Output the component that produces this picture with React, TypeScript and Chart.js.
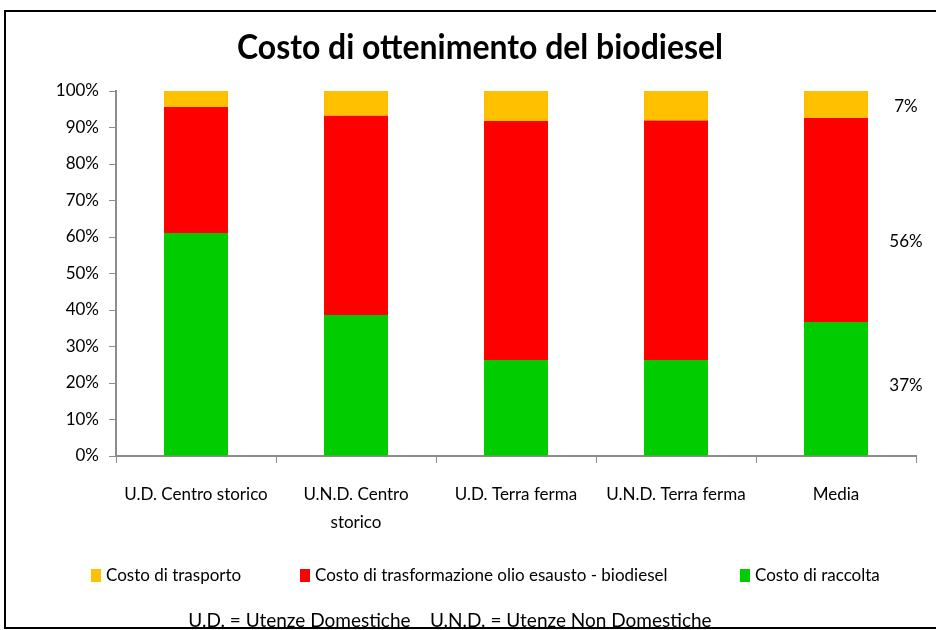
import React, { useEffect, useRef } from 'react';
import { Chart, registerables } from 'chart.js';

Chart.register(...registerables);

const TITLE = 'Costo di ottenimento del biodiesel';
const categories: string[][] = [
  ['U.D. Centro storico'],
  ['U.N.D. Centro', 'storico'],
  ['U.D. Terra ferma'],
  ['U.N.D. Terra ferma'],
  ['Media'],
];
const seriesNames = ['Costo di raccolta', 'Costo di trasformazione olio esausto - biodiesel', 'Costo di trasporto'];
const raccolta = [61.1, 38.6, 26.3, 26.3, 36.7];
const trasformazione = [34.5, 54.6, 65.5, 65.6, 55.9];
const trasporto = [4.4, 6.8, 8.2, 8.1, 7.4];
const mediaLabels = ['37%', '56%', '7%'];
const colors = ['#00CC00', '#FF0000', '#FFC000'];
const FOOTNOTE = 'U.D. = Utenze Domestiche    U.N.D. = Utenze Non Domestiche';

const FONT = 'Lato, "Open Sans", sans-serif';

const decorPlugin = {
  id: 'decor',
  afterDraw(chart: any) {
    const ctx = chart.ctx as CanvasRenderingContext2D;
    ctx.save();
    // outer border
    ctx.strokeStyle = '#000';
    ctx.lineWidth = 2;
    ctx.strokeRect(5, 11, 960, 617);

    // title
    ctx.fillStyle = '#000';
    ctx.font = `bold 35px ${FONT}`;
    ctx.textAlign = 'center';
    ctx.textBaseline = 'middle';
    ctx.fillText(TITLE, 480, 48, 486);

    // labels for last bar (Media)
    const meta0 = chart.getDatasetMeta(0);
    const lastBar = meta0.data[meta0.data.length - 1];
    const lx = lastBar.x + 70;
    const yScale = chart.scales.y;
    ctx.font = `17px ${FONT}`;
    let base = 0;
    const dsets = [raccolta, trasformazione, trasporto];
    const nudge = [-4, 21, 2];
    dsets.forEach((arr, i) => {
      const v = arr[arr.length - 1];
      const mid = base + v / 2;
      base += v;
      ctx.fillText(mediaLabels[i], lx, yScale.getPixelForValue(mid) + nudge[i]);
    });

    // legend (reverse order)
    ctx.font = `17px ${FONT}`;
    ctx.textAlign = 'left';
    const legendY = 576;
    const legendX = [91, 300, 740];
    const legendW = [137, 365, 127];
    [2, 1, 0].forEach((di, k) => {
      ctx.fillStyle = colors[di];
      ctx.fillRect(legendX[k], legendY - 7, 10, 13);
      ctx.fillStyle = '#000';
      ctx.fillText(seriesNames[di], legendX[k] + 15, legendY, legendW[k]);
    });

    // footnote
    ctx.font = `19px ${FONT}`;
    ctx.textAlign = 'center';
    ctx.fillText(FOOTNOTE, 450, 621, 530);
    ctx.restore();
  },
};

export default function App() {
  const ref = useRef<HTMLCanvasElement | null>(null);
  useEffect(() => {
    if (!ref.current) return;
    const chart = new Chart(ref.current, {
      type: 'bar',
      data: {
        labels: categories,
        datasets: [
          { label: seriesNames[0], data: raccolta, backgroundColor: colors[0] },
          { label: seriesNames[1], data: trasformazione, backgroundColor: colors[1] },
          { label: seriesNames[2], data: trasporto, backgroundColor: colors[2] },
        ],
      },
      options: {
        responsive: false,
        animation: false,
        layout: { padding: { left: 0, right: 20, top: 91, bottom: 0 } },
        datasets: { bar: { categoryPercentage: 1, barPercentage: 0.4 } },
        plugins: { legend: { display: false }, title: { display: false }, tooltip: { enabled: false } },
        scales: {
          x: {
            stacked: true,
            afterFit: (s: any) => { s.height = 174; },
            grid: { drawOnChartArea: false, drawTicks: true, tickLength: 7, color: '#8c8c8c', offset: true },
            border: { display: true, color: '#8c8c8c', width: 2 },
            ticks: { color: '#000', padding: 17, maxRotation: 0, autoSkip: false, font: { family: FONT, size: 17, lineHeight: 1.65 } },
          },
          y: {
            stacked: true,
            min: 0,
            max: 100,
            afterFit: (s: any) => { s.width = 116; },
            grid: { drawOnChartArea: false, drawTicks: true, tickLength: 7, color: '#8c8c8c' },
            border: { display: true, color: '#8c8c8c', width: 2 },
            ticks: { stepSize: 10, color: '#000', padding: 10, callback: (v: any) => v + '%', font: { family: FONT, size: 17 } },
          },
        },
      },
      plugins: [decorPlugin],
    });
    return () => chart.destroy();
  }, []);
  return (
    <div style={{ position: 'absolute', left: 0, top: 0, width: 936, height: 630, background: '#fff' }}>
      <canvas ref={ref} width={936} height={630} style={{ display: 'block' }} />
    </div>
  );
}
